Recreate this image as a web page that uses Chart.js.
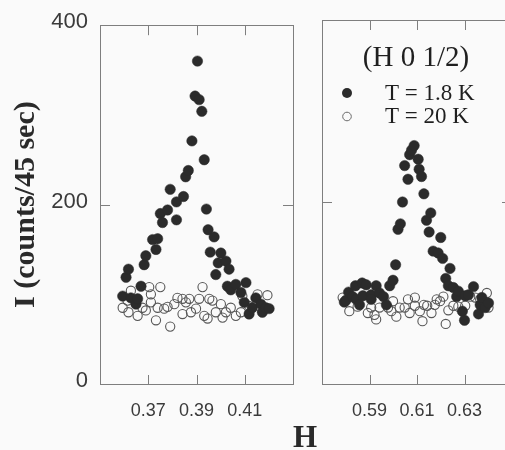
<!DOCTYPE html>
<html>
<head>
<meta charset="utf-8">
<script src="https://cdn.jsdelivr.net/npm/chart.js@4/dist/chart.umd.min.js"></script>
<style>
html,body{margin:0;padding:0;background:#fafafa;width:505px;height:450px;overflow:hidden;}
#wrap{position:relative;width:505px;height:450px;overflow:hidden;}
#c1{position:absolute;left:0;top:0;}
#c2{position:absolute;left:310px;top:0;}
#hlab{position:absolute;left:255px;top:421px;width:100px;text-align:center;font:bold 31px "Liberation Serif","Times New Roman",serif;line-height:31px;color:#2a2a2a;}
</style>
</head>
<body>
<div id="wrap">
<canvas id="c1" width="300" height="450"></canvas>
<canvas id="c2" width="210" height="450"></canvas>
<div id="hlab">H</div>
</div>
<script>
// ---- data ----
const seriesLabels = ["T = 1.8 K", "T = 20 K"];
const panelLabel = "(H 0 1/2)";
const yTitle = "I (counts/45 sec)";
const yTicks = [0, 200, 400];
const xTicksLeft = [0.37, 0.39, 0.41];
const xTicksRight = [0.59, 0.61, 0.63];

// left panel, T = 1.8 K (filled)
const leftH_18K = [0.3594,0.3608,0.3618,0.3628,0.3649,0.3656,0.3670,0.3683,0.3690,0.3718,0.3732,0.3739,0.3750,0.3759,0.3780,0.3791,0.3817,0.3817,0.3846,0.3855,0.3866,0.3881,0.3894,0.3904,0.3911,0.3922,0.3932,0.3941,0.3948,0.3957,0.3973,0.3980,0.3990,0.4001,0.4022,0.4028,0.4035,0.4042,0.4063,0.4084,0.4098,0.4105,0.4118,0.4131,0.4146,0.4167,0.4173,0.4187,0.4201];
const leftI_18K = [98,119,128,96,89,95,109,133,143,161,150,162,190,180,194,217,203,183,209,231,238,271,321,360,317,304,250,195,172,147,164,122,135,146,137,109,128,105,111,102,91,113,78,85,96,89,80,85,84];
// left panel, T = 20 K (open)
const leftH_20K = [0.3594,0.3614,0.3618,0.3628,0.3656,0.3676,0.3690,0.3704,0.3711,0.3711,0.3732,0.3739,0.3750,0.3766,0.3780,0.3791,0.3808,0.3821,0.3842,0.3842,0.3856,0.3870,0.3877,0.3898,0.3911,0.3925,0.3932,0.3946,0.3953,0.3966,0.3980,0.4001,0.4008,0.4022,0.4042,0.4063,0.4084,0.4090,0.4118,0.4153,0.4167,0.4194];
const leftI_20K = [85,93,80,104,76,85,82,108,100,91,71,85,108,84,86,64,89,96,95,78,91,95,80,84,95,108,76,73,95,93,80,89,74,80,85,76,80,98,87,100,85,99];
// right panel, T = 1.8 K (filled)
const rightH_18K = [0.5794,0.5801,0.5812,0.5829,0.5841,0.5844,0.5858,0.5869,0.5872,0.5886,0.5907,0.5907,0.5928,0.5942,0.5959,0.5971,0.5985,0.5999,0.6010,0.6020,0.6030,0.6039,0.6048,0.6062,0.6069,0.6077,0.6088,0.6105,0.6109,0.6119,0.6129,0.6140,0.6151,0.6158,0.6168,0.6189,0.6200,0.6208,0.6221,0.6232,0.6239,0.6253,0.6267,0.6274,0.6291,0.6300,0.6303,0.6317,0.6338,0.6359,0.6366,0.6373,0.6387,0.6401];
const rightI_18K = [90,92,101,96,108,93,87,111,97,109,98,93,108,100,96,87,108,114,131,170,176,200,240,225,252,257,262,247,236,228,209,180,167,188,146,144,161,138,116,108,127,106,96,102,80,70,97,98,107,77,87,95,84,89];
// right panel, T = 20 K (open)
const rightH_20K = [0.5787,0.5815,0.5850,0.5893,0.5907,0.5921,0.5928,0.5942,0.5978,0.5992,0.5999,0.6013,0.6027,0.6048,0.6062,0.6069,0.6091,0.6091,0.6112,0.6123,0.6129,0.6143,0.6161,0.6175,0.6183,0.6197,0.6211,0.6221,0.6232,0.6253,0.6274,0.6303,0.6324,0.6345,0.6366,0.6394,0.6401];
const rightI_20K = [95,80,85,78,84,76,71,84,84,80,91,74,84,84,93,78,95,86,80,69,87,86,78,87,93,91,96,66,81,86,85,86,96,95,93,100,84];

// ---- styling ----
const SANS = '"Liberation Sans", Arial, Helvetica, sans-serif';
const SERIF = '"Liberation Serif", "Times New Roman", Times, serif';
const FRAME = '#7e7e7e';
const FILL = '#2b2b2b';
const OPEN = '#575757';

const pts = (xs, ys) => xs.map((x, i) => ({x: x, y: ys[i]}));

function makeDatasets(h18, i18, h20, i20) {
  return [
    {label: seriesLabels[0], data: pts(h18, i18), backgroundColor: FILL, borderColor: FILL,
     pointRadius: 5.2, pointBorderWidth: 0.5, showLine: false},
    {label: seriesLabels[1], data: pts(h20, i20), backgroundColor: 'rgba(0,0,0,0)', borderColor: OPEN,
     pointRadius: 4.6, pointBorderWidth: 1.1, showLine: false}
  ];
}

const innerTicks = {
  id: 'innerTicks',
  afterDatasetsDraw(chart, args, opts) {
    const {ctx, chartArea: a, scales} = chart;
    const xs = scales.x, ys = scales.y, len = opts.len || 10;
    ctx.save();
    ctx.strokeStyle = FRAME; ctx.lineWidth = 1;
    ctx.beginPath();
    xs.ticks.forEach(t => {
      const px = Math.round(xs.getPixelForValue(t.value)) + 0.5;
      ctx.moveTo(px, a.bottom); ctx.lineTo(px, a.bottom - len + 1);
      ctx.moveTo(px, a.top); ctx.lineTo(px, a.top + len);
    });
    ys.ticks.forEach(t => {
      if (t.value <= ys.min || t.value >= ys.max) return;
      const py = Math.round(ys.getPixelForValue(t.value)) + 0.5;
      ctx.moveTo(a.left, py); ctx.lineTo(a.left + len, py);
      ctx.moveTo(a.right, py); ctx.lineTo(a.right - len, py);
    });
    ctx.stroke();
    ctx.restore();
  }
};

const insetLegend = {
  id: 'insetLegend',
  afterDraw(chart, args, opts) {
    if (!opts.show) return;
    const {ctx, chartArea: a} = chart;
    const ds = chart.data.datasets;
    ctx.save();
    ctx.fillStyle = '#1f1f1f';
    ctx.textBaseline = 'alphabetic';
    ctx.textAlign = 'center';
    ctx.font = '29px ' + SERIF;
    ctx.fillText(opts.title, a.left + 94, a.top + 46);
    ctx.textAlign = 'left';
    ctx.font = '23px ' + SERIF;
    const rows = [{my: a.top + 73, ty: a.top + 80}, {my: a.top + 96.5, ty: a.top + 103}];
    ds.forEach((d, i) => {
      const r = rows[i];
      const mx = a.left + 25;
      ctx.beginPath();
      if (i === 0) {
        ctx.fillStyle = d.backgroundColor;
        ctx.arc(mx, r.my, 5, 0, Math.PI * 2);
        ctx.fill();
      } else {
        ctx.strokeStyle = '#6a6a6a'; ctx.lineWidth = 1;
        ctx.arc(mx, r.my, 4.3, 0, Math.PI * 2);
        ctx.stroke();
      }
      ctx.fillStyle = '#1f1f1f';
      ctx.fillText(d.label, a.left + 63, r.ty);
    });
    ctx.restore();
  }
};

function frameAxis(pos, min, max, axis) {
  return {
    type: 'linear', position: pos, axis: axis, min: min, max: max, display: true,
    grid: {display: false, drawTicks: false},
    border: {display: true, color: FRAME, width: 1},
    ticks: {display: false},
    afterFit: s => { if (axis === 'x') s.height = 0; else s.width = 0; }
  };
}

function makeChart(id, datasets, xmin, xmax, xTickVals, left, padding) {
  return new Chart(document.getElementById(id), {
    type: 'scatter',
    data: {datasets: datasets},
    options: {
      responsive: false, animation: false, devicePixelRatio: 1,
      layout: {padding: padding},
      plugins: {
        legend: {display: false}, tooltip: {enabled: false},
        innerTicks: {len: 10},
        insetLegend: {show: !left, title: panelLabel}
      },
      scales: {
        x: {
          type: 'linear', position: 'bottom', min: xmin, max: xmax,
          grid: {display: false, drawTicks: false},
          border: {display: true, color: FRAME, width: 1},
          afterBuildTicks: s => { s.ticks = xTickVals.map(v => ({value: v})); },
          ticks: {font: {family: SANS, size: 18}, color: '#3a3a3a', padding: 16,
                  maxRotation: 0, autoSkip: false, callback: v => v.toFixed(2)},
          afterFit: s => { s.height = 66; }
        },
        y: {
          type: 'linear', position: 'left', min: 0, max: 400,
          grid: {display: false, drawTicks: false},
          border: {display: true, color: FRAME, width: 1},
          afterBuildTicks: s => { s.ticks = yTicks.map(v => ({value: v})); },
          ticks: {display: left, font: {family: SANS, size: 22}, color: '#3a3a3a', padding: 12,
                  labelOffset: -3},
          title: {display: left, text: yTitle, color: '#2a2a2a',
                  font: {family: SERIF, size: 30, weight: 'bold'}, padding: {top: 8, bottom: 0}},
          afterFit: s => { s.width = left ? 100 : 0; }
        },
        x2: frameAxis('top', xmin, xmax, 'x'),
        y2: frameAxis('right', 0, 400, 'y')
      }
    },
    plugins: [innerTicks, insetLegend]
  });
}

makeChart('c1', makeDatasets(leftH_18K, leftI_18K, leftH_20K, leftI_20K),
  0.35, 0.43, xTicksLeft, true, {left: 0, top: 20, right: 7, bottom: 0});
makeChart('c2', makeDatasets(rightH_18K, rightI_18K, rightH_20K, rightI_20K),
  0.57, 0.65, xTicksRight, false, {left: 12, top: 20, right: 8, bottom: 0});
</script>
</body>
</html>
